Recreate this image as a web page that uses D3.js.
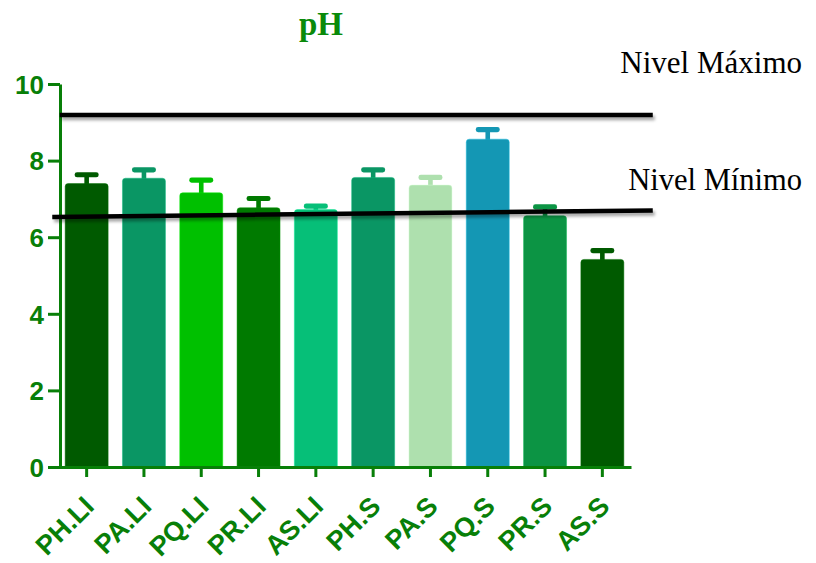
<!DOCTYPE html>
<html><head><meta charset="utf-8">
<script src="https://cdn.jsdelivr.net/npm/d3@7"></script>
<style>body{margin:0;background:#fff}svg{display:block}</style>
</head><body>
<svg id="c" width="816" height="563"></svg>
<script>
const categories = ["PH.LI","PA.LI","PQ.LI","PR.LI","AS.LI","PH.S","PA.S","PQ.S","PR.S","AS.S"];
const means  = [7.40, 7.54, 7.16, 6.77, 6.72, 7.56, 7.36, 8.56, 6.56, 5.42];
const errors = [0.23, 0.22, 0.33, 0.24, 0.09, 0.20, 0.20, 0.25, 0.23, 0.23];
const barColors = ["#005a00","#0a9664","#00c000","#007a00","#06bf78","#0a9664","#aee0ae","#1497b4","#0c9444","#005a00"];
const yTicks = [0, 2, 4, 6, 8, 10];
const nivelMaximo = [9.19, 9.19];      // y at start / end
const nivelMaximoSpan = [0.03, 10.38]; // in bar-index units
const nivelMinimo = [6.53, 6.70];
const nivelMinimoSpan = [-0.1, 10.38];
const levelLabels = ["Nivel Máximo", "Nivel Mínimo"];
const title = "pH";

const green = "#087f08";
const svg = d3.select("#c");
const defs = svg.append("defs");
const f = defs.append("filter").attr("id","sh").attr("x","-5%").attr("y","-100%").attr("width","110%").attr("height","400%");
f.append("feDropShadow").attr("dx",2).attr("dy",3).attr("stdDeviation",1.8).attr("flood-color","#000").attr("flood-opacity",0.35);

const x = d3.scaleBand().domain(categories).range([58, 631]).paddingInner(0.25).paddingOuter(0.125);
const xi = d3.scaleLinear().domain([0, 10]).range([58, 631]);
const y = d3.scaleLinear().domain([0, 10]).range([467, 84]);

// title
svg.append("text").attr("x", 321).attr("y", 35).attr("text-anchor","middle")
  .attr("font-family","'Liberation Serif','Times New Roman',serif").attr("font-weight","bold")
  .attr("font-size", 33).attr("fill", "#0a8a0a").text(title);

// bars
function barPath(x0, w, yTop, yBot, r) {
  return `M${x0},${yBot}V${yTop+r}Q${x0},${yTop} ${x0+r},${yTop}H${x0+w-r}Q${x0+w},${yTop} ${x0+w},${yTop+r}V${yBot}Z`;
}
const bw = x.bandwidth();
const g = svg.append("g");
categories.forEach((c, i) => {
  const x0 = x(c), cx = x0 + bw/2;
  const top = y(means[i]), hi = y(means[i] + errors[i]);
  g.append("rect").attr("x", cx - 2.3).attr("y", hi).attr("width", 4.6).attr("height", top - hi + 1).attr("fill", barColors[i]);
  g.append("rect").attr("x", cx - 12).attr("y", hi - 2.6).attr("width", 24).attr("height", 5.2).attr("rx", 2.4).attr("fill", barColors[i]);
  g.append("path").attr("d", barPath(x0, bw, top, y(0), 3)).attr("fill", barColors[i])
    .attr("stroke", d3.color(barColors[i]).brighter(0.6)).attr("stroke-width", 0.8).attr("stroke-opacity",0.6);
});

// axes
const ya = svg.append("g").attr("transform","translate(60,0)")
  .call(d3.axisLeft(y).tickValues(yTicks).tickSize(12).tickSizeOuter(0).tickPadding(4));
ya.select(".domain").attr("stroke", green).attr("stroke-width", 3);
ya.selectAll(".tick line").attr("stroke", green).attr("stroke-width", 3);
ya.selectAll(".tick text").attr("fill", green).attr("font-family","'Liberation Sans',Arial,sans-serif")
  .attr("font-weight","bold").attr("font-size", 26).attr("dy","0.36em");

const xa = svg.append("g").attr("transform", `translate(0,${y(0)})`)
  .call(d3.axisBottom(x).tickSize(10).tickSizeOuter(0).tickFormat(""));
xa.select(".domain").attr("stroke", green).attr("stroke-width", 3);
xa.selectAll(".tick line").attr("stroke", green).attr("stroke-width", 3);

svg.append("g").selectAll("text").data(categories).join("text")
  .attr("transform", d => `translate(${x(d) + bw/2 + 9},${y(0) + 41}) rotate(-45)`)
  .attr("text-anchor","end")
  .attr("fill", green).attr("font-family","'Liberation Sans',Arial,sans-serif")
  .attr("font-weight","bold").attr("font-size", 27).text(d => d);

// reference lines
const lines = [
  {v: nivelMaximo, s: nivelMaximoSpan},
  {v: nivelMinimo, s: nivelMinimoSpan}
];
svg.append("g").attr("filter","url(#sh)").selectAll("line").data(lines).join("line")
  .attr("x1", d => xi(d.s[0])).attr("x2", d => xi(d.s[1]))
  .attr("y1", d => y(d.v[0])).attr("y2", d => y(d.v[1]))
  .attr("stroke","#000").attr("stroke-width", 4.5);

svg.append("text").attr("x", 802).attr("y", 73).attr("text-anchor","end")
  .attr("font-family","'Liberation Serif','Times New Roman',serif").attr("font-size", 31).attr("fill","#000").text(levelLabels[0]);
svg.append("text").attr("x", 802).attr("y", 190).attr("text-anchor","end")
  .attr("font-family","'Liberation Serif','Times New Roman',serif").attr("font-size", 30.5).attr("fill","#000").text(levelLabels[1]);
</script>
</body></html>
